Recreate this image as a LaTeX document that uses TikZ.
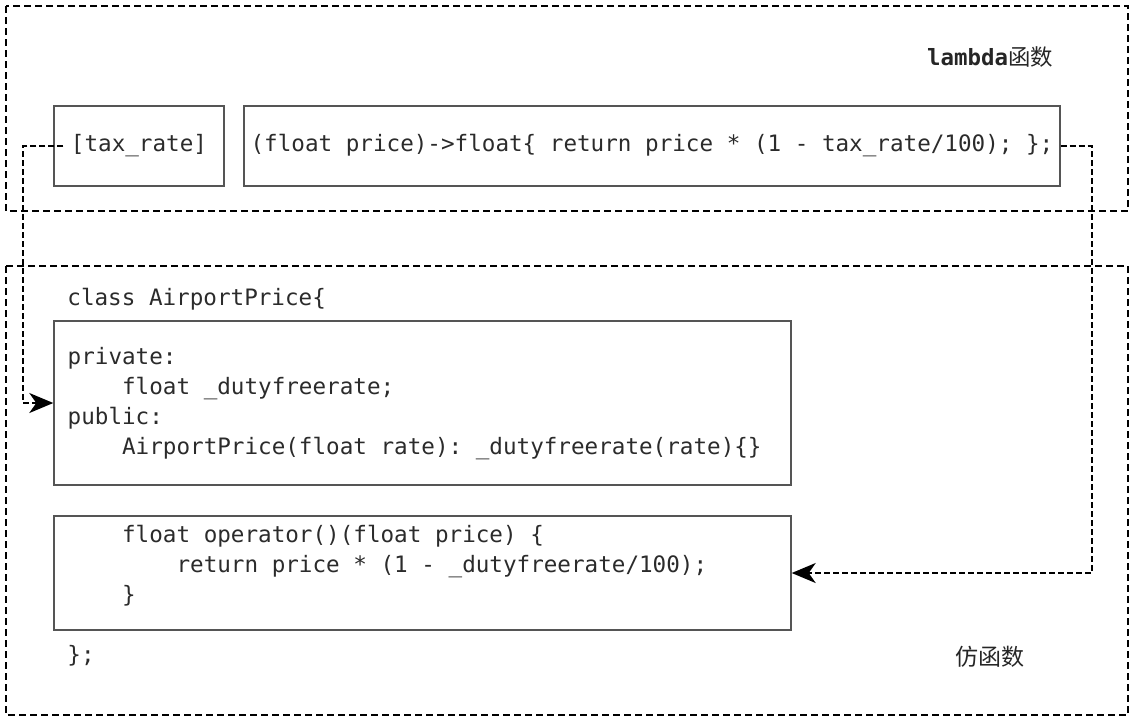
\documentclass[tikz,border=0pt]{standalone}
\usepackage{fontspec}
\setmonofont{DejaVu Sans Mono}
\newfontfamily\cjk{Noto Sans CJK SC}
\usetikzlibrary{positioning,arrows.meta}

\definecolor{boxgray}{HTML}{555555}
\definecolor{codegray}{HTML}{2B2B2B}
\newcommand{\ind}{\phantom{xxxx}}

\begin{document}
\begin{tikzpicture}[x=0.5pt, y=-0.5pt,
    region/.style={draw=black, line width=0.9pt, dash pattern=on 3.5pt off 2pt},
    codebox/.style={draw=boxgray, line width=0.7pt, minimum width=368.5pt, inner sep=0pt},
    code/.style={font=\ttfamily\fontsize{11.3}{15}\selectfont, text=codegray, align=left, inner sep=0pt},
    lbl/.style={font=\fontsize{11.2}{14}\selectfont, text=black!85, inner sep=0pt},
    link/.style={line width=0.9pt, dash pattern=on 3pt off 1.5pt, -{Stealth[length=12pt,width=10pt,inset=3.5pt]}}]
    \useasboundingbox (0,0) rectangle (1134,723);

    % lambda
    \draw [region] (6,6) rectangle (1128,211);
    \node [lbl] (lamlbl) at (990,57) {{\ttfamily\bfseries lambda}{\cjk 函数}};
    \node [codebox, code, minimum width=85pt, minimum height=40pt] (tax) at (139,146) {[tax\_rate]};
    \node [codebox, code, minimum width=408pt, minimum height=40pt] (lam) at (652,146) {(float price)->float\{ return price * (1 - tax\_rate/100); \};};

    % functor
    \draw [region] (6,266) rectangle (1128,715);
    \node [code, anchor=base west] (head) at (67,305) {class AirportPrice\{};
    \node [codebox, minimum height=82pt] (cls) at (422.5,403) {};
    \node [code, anchor=north west] (clstxt) at ([xshift=7pt, yshift=-13.5pt]cls.north west) {private:\\\ind float \_dutyfreerate;\\public:\\\ind AirportPrice(float rate): \_dutyfreerate(rate)\{\}};
    \node [codebox, minimum height=57pt] (op) at (422.5,573) {};
    \node [code, anchor=north west] (optxt) at ([xshift=7pt, yshift=-4.5pt]op.north west) {\ind float operator()(float price) \{\\\ind\ind return price * (1 - \_dutyfreerate/100);\\\ind\}};
    \node [code, anchor=base west] (tail) at (67,662) {\};};
    \node [lbl, font=\fontsize{11.5}{14}\selectfont] (fnlbl) at (990,657) {{\cjk 仿函数}};

    % captures
    \draw [link] ([xshift=5pt]tax.west) -- ++(-40,0) |- (cls.west);
    \draw [link] (lam.east) -- ++(31,0) |- (op.east);
\end{tikzpicture}
\end{document}
